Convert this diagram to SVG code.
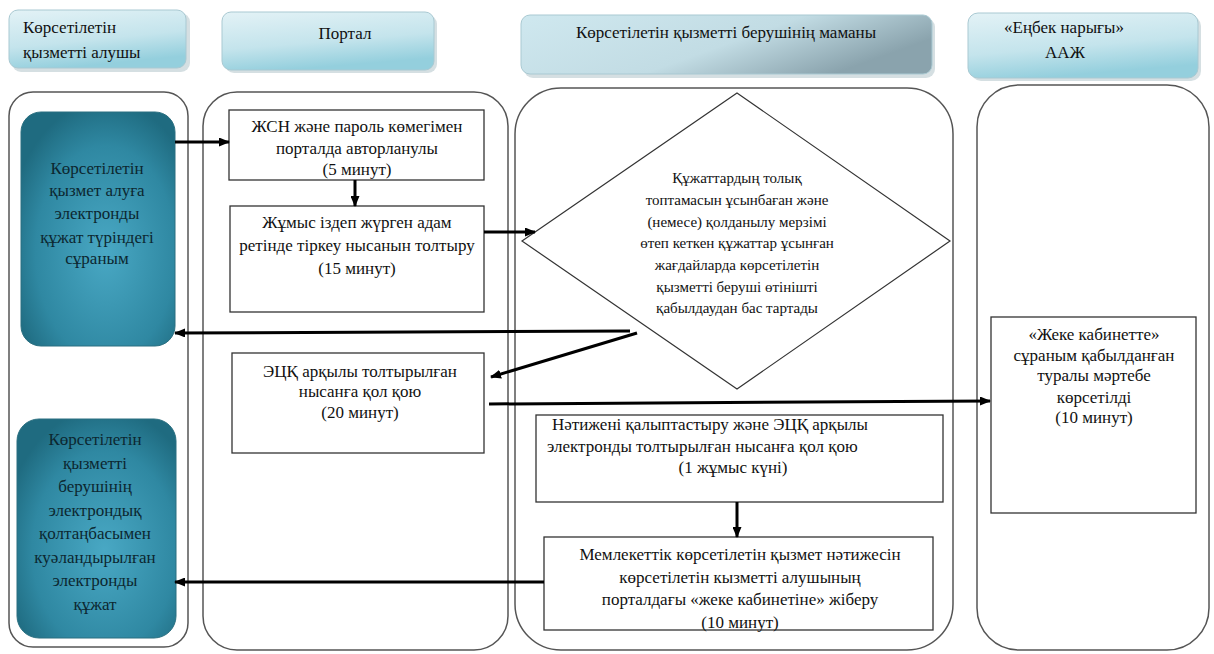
<svg xmlns="http://www.w3.org/2000/svg" width="1214" height="654" viewBox="0 0 1214 654" font-family="'Liberation Serif', 'DejaVu Serif', serif">
<defs>
<linearGradient id="hdr" x1="0" y1="0" x2="0.3" y2="1">
<stop offset="0" stop-color="#e3f2f6"/>
<stop offset="0.6" stop-color="#c4e4ec"/>
<stop offset="1" stop-color="#94cfdd"/>
</linearGradient>
<linearGradient id="hdr3" x1="0" y1="0" x2="1" y2="0.4">
<stop offset="0" stop-color="#cfe8ef"/>
<stop offset="0.6" stop-color="#c2dce4"/>
<stop offset="1" stop-color="#8aa3ad"/>
</linearGradient>
<radialGradient id="teal" cx="0.55" cy="0.6" r="0.65">
<stop offset="0" stop-color="#49a8c4"/>
<stop offset="0.7" stop-color="#2f88a2"/>
<stop offset="1" stop-color="#1f6b80"/>
</radialGradient>
<marker id="ah" markerUnits="userSpaceOnUse" markerWidth="11" markerHeight="9" refX="10" refY="4.5" orient="auto">
<path d="M0,0 L11,4.5 L0,9 z" fill="#000"/>
</marker>
</defs>
<style>
.hdr{stroke:#a9c9d2;stroke-width:1}
.lane{fill:#fff;stroke:#555;stroke-width:1.5}
.box{fill:#fff;stroke:#333;stroke-width:1.3}
.teal{fill:url(#teal);stroke:#2a6f80;stroke-width:1}
text{font-family:'Liberation Serif','DejaVu Serif',serif}
.t{font-size:17px;fill:#111}
.tc{text-anchor:middle}
.dt{font-size:15px}
.tt{fill:#0c2730;font-size:17px}
.conn{stroke:#000;stroke-width:3;fill:none;marker-end:url(#ah)}
.shadow{fill:#b9c9ce;opacity:0.6}
</style>

<g id="header-recipient">
<rect class="shadow" x="12" y="13" width="178" height="59" rx="9"/>
<rect class="hdr" x="9" y="10" width="177" height="58" rx="9" fill="url(#hdr)"/>
<text class="t" x="23" y="33">Көрсетілетін</text>
<text class="t" x="23" y="58">қызметті алушы</text>
</g>
<g id="header-portal">
<rect class="shadow" x="225" y="15" width="212" height="58" rx="9"/>
<rect class="hdr" x="222" y="12" width="212" height="58" rx="9" fill="url(#hdr)"/>
<text class="t tc" x="345" y="39">Портал</text>
</g>
<g id="header-specialist">
<rect class="shadow" x="524" y="18" width="411" height="60" rx="9"/>
<rect class="hdr" x="521" y="15" width="411" height="59" rx="9" fill="url(#hdr3)"/>
<text class="t tc" x="726" y="38">Көрсетілетін қызметті берушінің маманы</text>
</g>
<g id="header-aaj">
<rect class="shadow" x="971" y="16" width="230" height="65" rx="10"/>
<rect class="hdr" x="968" y="13" width="230" height="65" rx="10" fill="url(#hdr)"/>
<text class="t tc" x="1064" y="33">«Еңбек нарығы»</text>
<text class="t tc" x="1065" y="58">ААЖ</text>
</g>

<g id="lane-recipient"><rect class="lane" x="9" y="92" width="179" height="555" rx="24"/></g>
<g id="lane-portal"><rect class="lane" x="203" y="92" width="305" height="558" rx="34"/></g>
<g id="lane-specialist"><rect class="lane" x="515" y="88" width="438" height="562" rx="46"/></g>
<g id="lane-aaj"><rect class="lane" x="977" y="85" width="232" height="565" rx="42"/></g>

<g id="request">
<rect class="teal" x="21" y="112" width="154" height="234" rx="20"/>
<text class="t tc tt" x="97" y="174">Көрсетілетін</text>
<text class="t tc tt" x="97" y="196">қызмет алуға</text>
<text class="t tc tt" x="97" y="219">электронды</text>
<text class="t tc tt" x="97" y="243">құжат түріндегі</text>
<text class="t tc tt" x="97" y="264">сұраным</text>
</g>
<g id="result-doc">
<rect class="teal" x="17" y="419" width="159" height="219" rx="22"/>
<text class="t tc tt" x="95" y="445">Көрсетілетін</text>
<text class="t tc tt" x="95" y="469">қызметті</text>
<text class="t tc tt" x="95" y="492">берушінің</text>
<text class="t tc tt" x="95" y="516">электрондық</text>
<text class="t tc tt" x="95" y="539">қолтаңбасымен</text>
<text class="t tc tt" x="95" y="563">куәландырылған</text>
<text class="t tc tt" x="95" y="586">электронды</text>
<text class="t tc tt" x="95" y="610">құжат</text>
</g>

<g id="login">
<rect class="box" x="229" y="110" width="255" height="70"/>
<text class="t tc" x="357" y="132">ЖСН және пароль көмегімен</text>
<text class="t tc" x="357" y="154">порталда авторланулы</text>
<text class="t tc" x="357" y="175">(5 минут)</text>
</g>
<g id="fill-form">
<rect class="box" x="230" y="206" width="254" height="106"/>
<text class="t tc" x="357" y="228">Жұмыс іздеп жүрген адам</text>
<text class="t tc" x="357" y="251">ретінде тіркеу нысанын толтыру</text>
<text class="t tc" x="357" y="274">(15 минут)</text>
</g>
<g id="sign-form">
<rect class="box" x="232" y="353" width="252" height="100"/>
<text class="t tc" x="360" y="377">ЭЦҚ арқылы толтырылған</text>
<text class="t tc" x="360" y="397">нысанға қол қою</text>
<text class="t tc" x="360" y="418">(20 минут)</text>
</g>

<g id="decision">
<polygon points="737,93 950,241 737,389 522,241" fill="#fff" stroke="#333" stroke-width="1.2"/>
<text class="t tc dt" x="737" y="183">Құжаттардың толық</text>
<text class="t tc dt" x="737" y="205">топтамасын ұсынбаған және</text>
<text class="t tc dt" x="737" y="227">(немесе) қолданылу мерзімі</text>
<text class="t tc dt" x="737" y="248">өтеп кеткен құжаттар ұсынған</text>
<text class="t tc dt" x="737" y="270">жағдайларда көрсетілетін</text>
<text class="t tc dt" x="737" y="292">қызметті беруші өтінішті</text>
<text class="t tc dt" x="737" y="313">қабылдаудан бас тартады</text>
</g>

<g id="form-result">
<rect class="box" x="536" y="415" width="407" height="87"/>
<text class="t" x="552" y="430">Нәтижені қалыптастыру және ЭЦҚ арқылы</text>
<text class="t" x="547" y="452">электронды толтырылған нысанға қол қою</text>
<text class="t tc" x="733" y="473">(1 жұмыс күні)</text>
</g>
<g id="send-result">
<rect class="box" x="544" y="537" width="389" height="93"/>
<text class="t tc" x="740" y="560">Мемлекеттік көрсетілетін қызмет нәтижесін</text>
<text class="t tc" x="740" y="583">көрсетілетін кызметті алушының</text>
<text class="t tc" x="740" y="605">порталдағы «жеке кабинетіне» жіберу</text>
<text class="t tc" x="740" y="628">(10 минут)</text>
</g>

<g id="status">
<rect class="box" x="991" y="317" width="205" height="196"/>
<text class="t tc" x="1094" y="340">«Жеке кабинетте»</text>
<text class="t tc" x="1094" y="361">сұраным қабылданған</text>
<text class="t tc" x="1094" y="381">туралы мәртебе</text>
<text class="t tc" x="1094" y="403">көрсетілді</text>
<text class="t tc" x="1094" y="423">(10 минут)</text>
</g>

<g id="connectors">
<line class="conn" x1="175" y1="142" x2="229" y2="142"/>
<line class="conn" x1="355" y1="180" x2="355" y2="206"/>
<line class="conn" x1="484" y1="232" x2="535" y2="232"/>
<line class="conn" x1="630" y1="331" x2="175" y2="333"/>
<line class="conn" x1="637" y1="333" x2="491" y2="377"/>
<line class="conn" x1="489" y1="404" x2="990" y2="401"/>
<line class="conn" x1="737" y1="502" x2="737" y2="537"/>
<line class="conn" x1="544" y1="582" x2="175" y2="582"/>
</g>
</svg>
